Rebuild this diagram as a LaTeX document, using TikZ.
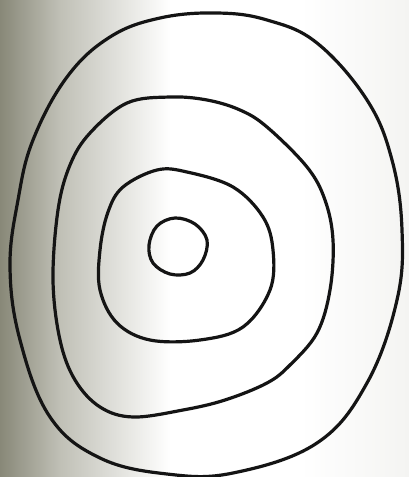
\documentclass[tikz,border=0pt]{standalone}
\begin{document}
\begin{tikzpicture}[x=1pt,y=-1pt,
  ring/.style={line width=3.2pt,draw=black!92,line join=round}]
\definecolor{bgdark}{RGB}{136,136,120}
\definecolor{bgmid}{RGB}{192,192,182}
\definecolor{bgright}{RGB}{244,244,242}
\useasboundingbox (0,0) rectangle (409,477);
\fill[white] (0,0) rectangle (409,477);
\shade[left color=bgdark,right color=bgmid] (0,0) rectangle (60,477);
\shade[left color=bgmid,right color=white] (60,0) rectangle (170,477);
\shade[left color=white,right color=bgright] (300,0) rectangle (409,477);
% outer
\draw[ring] plot[smooth cycle,tension=0.65] coordinates {
 (217,13) (267,20) (317,43) (367,100) (392,160) (402,230) (397,300) (367,383)
 (317,443) (233,473) (167,474) (100,458) (50,417) (20,340) (10,267) (18,200)
 (33,140) (67,77) (110,37) (160,18)};
% second
\draw[ring] plot[smooth cycle,tension=0.6] coordinates {
 (170,97) (207,100) (240,110) (267,127) (307,167) (325,200) (333,240) (330,290)
 (317,333) (290,365) (267,383) (225,400) (183,410) (133,417) (100,407) (75,380)
 (60,340) (53,280) (58,210) (70,165) (90,133) (127,103)};
% third
\draw[ring] plot[smooth cycle,tension=0.6] coordinates {
 (157,170) (187,172) (233,187) (263,217) (273,250) (270,290) (243,327) (200,340)
 (150,340) (117,323) (100,290) (100,250) (108,212) (123,187)};
% inner
\draw[ring] plot[smooth cycle,tension=0.6] coordinates {
 (175,218) (195,224) (207,240) (203,260) (190,273) (170,274) (153,263) (149,245) (157,226)};
\end{tikzpicture}
\end{document}
